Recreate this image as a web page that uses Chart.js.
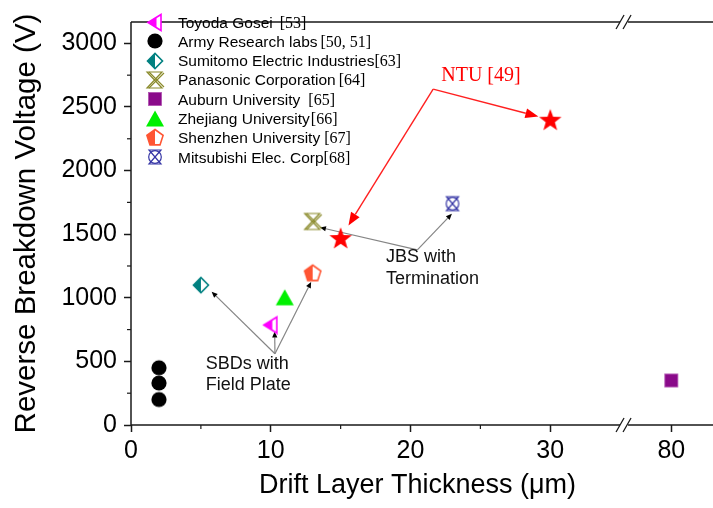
<!DOCTYPE html>
<html><head><meta charset="utf-8">
<script src="https://cdn.jsdelivr.net/npm/chart.js@4/dist/chart.umd.min.js"></script>
<style>html,body{margin:0;padding:0;background:#fff;}canvas{display:block;}</style>
</head><body>
<canvas id="c" width="713" height="508"></canvas>
<script>
// ---------------- DATA ----------------
const seriesNames = ['Toyoda Gosei', 'Army Research labs', 'Sumitomo Electric Industries', 'Panasonic Corporation',
  'Auburn University', 'Zhejiang University', 'Shenzhen University', 'Mitsubishi Elec. Corp', 'NTU'];
const seriesRefs = ['[53]', '[50, 51]', '[63]', '[64]', '[65]', '[66]', '[67]', '[68]', '[49]'];
const toyodaX = [10],        toyodaY = [790];
const armyX = [2, 2, 2],     armyY = [200, 330, 450];
const sumitomoX = [5],       sumitomoY = [1100];
const panasonicX = [13],     panasonicY = [1600];
const auburnX = [80],        auburnY = [350];
const zhejiangX = [11],      zhejiangY = [1000];
const shenzhenX = [13],      shenzhenY = [1190];
const mitsubishiX = [23],    mitsubishiY = [1740];
const ntuX = [15, 30],       ntuY = [1470, 2400];
const xTickValues = [0, 10, 20, 30, 80];
const xMinorTicks = [5, 15, 25];
const yTickValues = [0, 500, 1000, 1500, 2000, 2500, 3000];
const yMinorTicks = [250, 750, 1250, 1750, 2250, 2750];

// ---------------- BROKEN X AXIS ----------------
const BREAK_LO = 35.35, BREAK_HI = 76.69;
function fold(v){ if (v <= BREAK_LO) return v; if (v >= BREAK_HI) return BREAK_LO + (v - BREAK_HI); return BREAK_LO; }
function unfold(f){ return f <= BREAK_LO ? f : f - BREAK_LO + BREAK_HI; }
class BrokenLinearScale extends Chart.LinearScale {
  getPixelForValue(value){
    if (value === null || value === undefined || isNaN(value)) return NaN;
    const a = fold(this.min), b = fold(this.max);
    return this.getPixelForDecimal((fold(value) - a) / (b - a));
  }
  getValueForPixel(pixel){
    const a = fold(this.min), b = fold(this.max);
    return unfold(a + this.getDecimalForPixel(pixel) * (b - a));
  }
}
BrokenLinearScale.id = 'brokenLinear';
BrokenLinearScale.defaults = Object.assign({}, Chart.LinearScale.defaults);
Chart.register(BrokenLinearScale);

// ---------------- MARKERS ----------------
function makeMarker(size, fn){
  const c = document.createElement('canvas'); c.width = size; c.height = size;
  const g = c.getContext('2d'); g.translate(size/2, size/2); g.lineJoin = 'miter'; fn(g); return c;
}
function halfFilled(g, pathFn, color, lw, splitX){
  pathFn(g); g.fillStyle = '#fff'; g.fill();
  g.save(); pathFn(g); g.clip(); g.fillStyle = color; g.fillRect(-20, -20, 20 + splitX, 40); g.restore();
  pathFn(g); g.strokeStyle = color; g.lineWidth = lw; g.stroke();
}
const mkToyoda = makeMarker(20, g => halfFilled(g, g => { g.beginPath(); g.moveTo(-7, 0.5); g.lineTo(6, -7.5); g.lineTo(6, 8.5); g.closePath(); }, '#ff00ff', 1.6, 1.5));
const mkArmy = makeMarker(18, g => { g.beginPath(); g.arc(0, 0, 7.6, 0, Math.PI*2); g.fillStyle = '#000'; g.fill(); });
const mkSumitomo = makeMarker(20, g => halfFilled(g, g => { g.beginPath(); g.moveTo(-7.5, 0); g.lineTo(0, -7.5); g.lineTo(7.5, 0); g.lineTo(0, 7.5); g.closePath(); }, '#008080', 1.6, 0));
const mkPanasonic = makeMarker(22, g => {
  g.strokeStyle = '#8a8a2a'; g.lineWidth = 1.2;
  g.beginPath(); g.moveTo(-8, -8); g.lineTo(7, -8); g.lineTo(-8, 8); g.lineTo(7, 8); g.closePath(); g.stroke();
  g.beginPath(); g.moveTo(-6, -8); g.lineTo(9, 7); g.moveTo(9, -7); g.lineTo(-6, 8); g.stroke();
});
const mkAuburn = makeMarker(16, g => { g.fillStyle = '#8a0a8a'; g.fillRect(-6.5, -6.5, 13, 13); g.strokeStyle = '#b050b0'; g.lineWidth = 0.8; g.strokeRect(-6.5, -6.5, 13, 13); });
const mkZhejiang = makeMarker(22, g => { g.beginPath(); g.moveTo(0, -8.5); g.lineTo(9, 7.5); g.lineTo(-9, 7.5); g.closePath(); g.fillStyle = '#00f000'; g.fill(); });
const mkShenzhen = makeMarker(22, g => halfFilled(g, g => {
  g.beginPath();
  for (let k = 0; k < 5; k++){ const a = -Math.PI/2 + k*2*Math.PI/5; const r = 8.5; if (k === 0) g.moveTo(r*Math.cos(a), r*Math.sin(a)); else g.lineTo(r*Math.cos(a), r*Math.sin(a)); }
  g.closePath(); }, '#ff5533', 1.6, 0));
const mkMitsubishi = makeMarker(20, g => {
  g.strokeStyle = '#3535a5'; g.lineWidth = 1.2;
  g.beginPath(); g.arc(0, 0, 6.3, 0, Math.PI*2); g.stroke();
  g.beginPath(); g.moveTo(-6, -7); g.lineTo(6, -7); g.lineTo(-6, 7); g.lineTo(6, 7); g.closePath(); g.stroke();
});
const mkStar = makeMarker(26, g => {
  g.beginPath();
  for (let k = 0; k < 10; k++){ const a = -Math.PI/2 + k*Math.PI/5; const r = k % 2 ? 4.8 : 11.8; if (k === 0) g.moveTo(r*Math.cos(a), r*Math.sin(a)+1); else g.lineTo(r*Math.cos(a), r*Math.sin(a)+1); }
  g.closePath(); g.fillStyle = '#ff0000'; g.fill();
});
const markers = [mkToyoda, mkArmy, mkSumitomo, mkPanasonic, mkAuburn, mkZhejiang, mkShenzhen, mkMitsubishi, mkStar];

function pts(xs, ys){ return xs.map((x, i) => ({x: x, y: ys[i]})); }
const seriesData = [pts(toyodaX, toyodaY), pts(armyX, armyY), pts(sumitomoX, sumitomoY), pts(panasonicX, panasonicY),
  pts(auburnX, auburnY), pts(zhejiangX, zhejiangY), pts(shenzhenX, shenzhenY), pts(mitsubishiX, mitsubishiY), pts(ntuX, ntuY)];

// ---------------- ANNOTATIONS (data coordinates) ----------------
const grayArrows = [
  {from: [10.3, 560], to: [5.77, 1048]},
  {from: [10.3, 560], to: [10.28, 735]},
  {from: [10.3, 560], to: [12.89, 1125]},
  {from: [20.49, 1377], to: [13.52, 1553]},
  {from: [20.49, 1377], to: [22.96, 1660]}
];
const redVertex = [21.62, 2640];
const redTargets = [[29.15, 2425], [15.56, 1568]];
const notes = [
  {text: 'SBDs with', at: [5.35, 444]},
  {text: 'Field Plate', at: [5.35, 275]},
  {text: 'JBS with', at: [18.24, 1278]},
  {text: 'Termination', at: [18.24, 1109]}
];
const ntuNote = {text: 'NTU [49]', at: [22.2, 2701]};

const LEGEND = {markerX: 155, textX: 178, top: 22, step: 19.3, gaps: [7, 3, 0, 3, 8, 1, 4, 0]};

function arrow(ctx, x1, y1, x2, y2, lineColor, headColor, lw, hl, hw){
  const ang = Math.atan2(y2 - y1, x2 - x1);
  const bx = x2 - hl*Math.cos(ang), by = y2 - hl*Math.sin(ang);
  ctx.strokeStyle = lineColor; ctx.lineWidth = lw;
  ctx.beginPath(); ctx.moveTo(x1, y1); ctx.lineTo(bx, by); ctx.stroke();
  ctx.fillStyle = headColor; ctx.beginPath();
  ctx.moveTo(x2, y2);
  ctx.lineTo(bx + hw*Math.sin(ang), by - hw*Math.cos(ang));
  ctx.lineTo(bx - hw*Math.sin(ang), by + hw*Math.cos(ang));
  ctx.closePath(); ctx.fill();
}

const decor = {
  id: 'decor',
  beforeDatasetsDraw(chart){
    const ctx = chart.ctx, xs = chart.scales.x, ys = chart.scales.y;
    const P = p => [xs.getPixelForValue(p[0]), ys.getPixelForValue(p[1])];
    ctx.save();
    grayArrows.forEach(a => { const f = P(a.from), t = P(a.to); arrow(ctx, f[0], f[1], t[0], t[1], '#858585', '#000', 1.2, 6, 2.6); });
    const v = P(redVertex);
    redTargets.forEach(t => { const q = P(t); arrow(ctx, v[0], v[1], q[0], q[1], '#ff2020', '#ff0000', 1.4, 13, 5); });
    ctx.fillStyle = '#111'; ctx.font = '18px "Liberation Sans"'; ctx.textBaseline = 'alphabetic'; ctx.textAlign = 'left';
    notes.forEach(n => { const q = P(n.at); ctx.fillText(n.text, q[0], q[1]); });
    ctx.fillStyle = '#ff0000'; ctx.font = '20px "Liberation Serif"';
    const q = P(ntuNote.at); ctx.fillText(ntuNote.text, q[0], q[1]);
    ctx.restore();
  },
  afterDraw(chart){
    const ctx = chart.ctx, a = chart.chartArea, xs = chart.scales.x, ys = chart.scales.y;
    const bx = xs.getPixelForValue(BREAK_LO);
    ctx.save();
    ctx.strokeStyle = '#1a1a1a'; ctx.lineWidth = 1.5;
    ctx.beginPath(); ctx.moveTo(a.left, a.top); ctx.lineTo(a.left, a.bottom); ctx.stroke();
    [a.bottom, a.top].forEach(y => {
      ctx.beginPath(); ctx.moveTo(a.left, y); ctx.lineTo(bx - 5, y); ctx.moveTo(bx + 3, y); ctx.lineTo(chart.width, y); ctx.stroke();
      ctx.lineWidth = 1.3;
      ctx.beginPath(); ctx.moveTo(bx - 9, y + 7); ctx.lineTo(bx - 1, y - 7); ctx.moveTo(bx - 2, y + 7); ctx.lineTo(bx + 6, y - 7); ctx.stroke();
      ctx.lineWidth = 1.5;
    });
    ctx.lineWidth = 1.2;
    xMinorTicks.forEach(v => { const px = xs.getPixelForValue(v); ctx.beginPath(); ctx.moveTo(px, a.bottom); ctx.lineTo(px, a.bottom + 4); ctx.stroke(); });
    yMinorTicks.forEach(v => { const py = ys.getPixelForValue(v); ctx.beginPath(); ctx.moveTo(a.left, py); ctx.lineTo(a.left - 4, py); ctx.stroke(); });
    for (let i = 0; i < 8; i++){
      const cy = LEGEND.top + i*LEGEND.step, m = markers[i];
      ctx.drawImage(m, Math.round(LEGEND.markerX - m.width/2), Math.round(cy - m.height/2));
      ctx.fillStyle = '#000'; ctx.textBaseline = 'alphabetic'; ctx.textAlign = 'left';
      ctx.font = '15.5px "Liberation Sans"';
      ctx.fillText(seriesNames[i], LEGEND.textX, cy + 5.5);
      const w = ctx.measureText(seriesNames[i]).width;
      ctx.font = '16px "Liberation Serif"';
      ctx.fillText(seriesRefs[i], LEGEND.textX + w + LEGEND.gaps[i], cy + 5.5);
    }
    ctx.restore();
  }
};

new Chart(document.getElementById('c'), {
  type: 'scatter',
  data: {
    datasets: seriesData.map((d, i) => ({
      label: seriesNames[i] + ' ' + seriesRefs[i], data: d,
      pointStyle: markers[i], pointRadius: 8, pointHoverRadius: 8,
      backgroundColor: '#000', borderColor: '#000'
    }))
  },
  options: {
    responsive: false, animation: false, devicePixelRatio: 1,
    layout: {padding: {top: 11, right: 0, bottom: 0, left: 0}},
    plugins: {legend: {display: false}, tooltip: {enabled: false}},
    scales: {
      x: {
        type: 'brokenLinear', min: 0, max: unfold(41.0),
        afterBuildTicks: s => { s.ticks = xTickValues.map(v => ({value: v})); },
        afterFit: s => { s.height = 83; },
        ticks: {autoSkip: false, maxRotation: 0, color: '#000', padding: 4, font: {family: 'Liberation Sans', size: 25}, callback: v => String(v)},
        grid: {drawOnChartArea: false, drawTicks: true, tickLength: 7, tickColor: '#1a1a1a', tickWidth: 1.5},
        border: {display: false},
        title: {display: true, text: 'Drift Layer Thickness (\u03bcm)', color: '#000', font: {family: 'Liberation Sans', size: 27}, padding: {top: 0, bottom: 6}}
      },
      y: {
        type: 'linear', min: 0, max: 3168,
        afterBuildTicks: s => { s.ticks = yTickValues.map(v => ({value: v})); },
        afterFit: s => { s.width = 131; },
        ticks: {color: '#000', padding: 7, font: {family: 'Liberation Sans', size: 25}, callback: v => String(v)},
        grid: {drawOnChartArea: false, drawTicks: true, tickLength: 7, tickColor: '#1a1a1a', tickWidth: 1.5},
        border: {display: false},
        title: {display: true, text: 'Reverse Breakdown Voltage (V)', color: '#000', font: {family: 'Liberation Sans', size: 29.5}, padding: {top: 9, bottom: 0}}
      }
    }
  },
  plugins: [decor]
});
</script>
</body></html>
